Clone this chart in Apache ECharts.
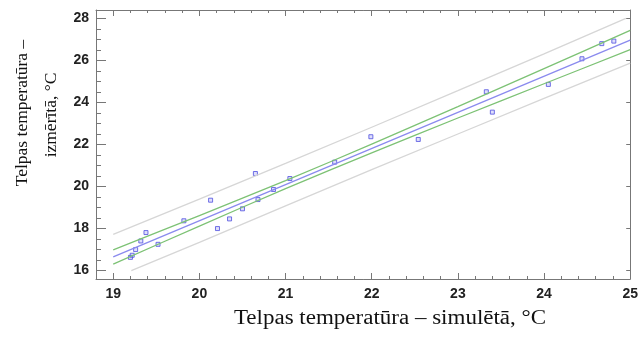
<!DOCTYPE html>
<html>
<head>
<meta charset="utf-8">
<script src="https://cdn.jsdelivr.net/npm/echarts@6/dist/echarts.min.js"></script>
<style>
  html, body { margin: 0; padding: 0; background: #fff; }
  #chart { width: 641px; height: 340px; }
</style>
</head>
<body>
<div id="chart"></div>
<script>
// simulated vs measured room temperature
let simX = [19.20, 19.22, 19.26, 19.32, 19.38, 19.52, 19.82, 20.13, 20.21, 20.35, 20.50, 20.65,
  20.68, 20.86, 21.05, 21.57, 21.99, 22.54, 23.33, 23.40, 24.05, 24.44, 24.67, 24.81];
let measY = [16.63, 16.73, 17.00, 17.41, 17.81, 17.25, 18.37, 19.35, 18.00, 18.46, 18.94, 20.62,
  19.38, 19.86, 20.38, 21.16, 22.37, 22.24, 24.51, 23.54, 24.86, 26.08, 26.80, 26.92];

// fitted line, confidence band (green), prediction band (grey)
let fitX = [19, 25];
let fitY = [16.65, 26.97];
let bandX = [19, 20, 21, 22, 23, 24, 25];
let confUpper = [16.99, 18.62, 20.28, 22.02, 23.80, 25.61, 27.43];
let confLower = [16.31, 18.12, 19.90, 21.60, 23.26, 24.89, 26.51];
let predUpperX = [19, 20, 21, 22, 23, 24, 24.95];
let predUpper = [17.72, 19.40, 21.10, 22.82, 24.56, 26.31, 28.0];
let predLowerX = [19.21, 20, 21, 22, 23, 24, 25];
let predLower = [16.0, 17.34, 19.08, 20.80, 22.50, 24.19, 25.87];

let xTicks = [19, 20, 21, 22, 23, 24, 25];
let yTicks = [16, 18, 20, 22, 24, 26, 28];

let xTitle = 'Telpas temperatūra – simulētā, °C';
let yTitle1 = 'Telpas temperatūra –';
let yTitle2 = 'izmērītā, °C';

let xMinor = [], yMinor = [];
for (let i = 0; i <= 30; i++) xMinor.push(+(19 + i * 0.2).toFixed(1));
for (let i = 0; i <= 24; i++) yMinor.push(16 + i * 0.5);

function pairs(xs, ys) {
  return xs.map((x, i) => [x, ys[i]]);
}

const axisCol = '#777';
const lblStyle = {
  color: '#222', fontSize: 14, fontWeight: 'bold',
  fontFamily: '"Liberation Sans", Arial, sans-serif'
};

function xAx(pos, ticks, len, labels, line) {
  return {
    type: 'value', position: pos, min: 18.8, max: 25,
    splitLine: { show: false },
    axisLine: { show: line, lineStyle: { color: axisCol, width: 1 } },
    axisTick: { show: true, inside: true, length: len, customValues: ticks, lineStyle: { color: axisCol } },
    axisLabel: labels ? Object.assign({ customValues: ticks, margin: 8 }, lblStyle) : { show: false }
  };
}

function yAx(pos, ticks, len, labels, line) {
  return {
    type: 'value', position: pos, min: 15.6, max: 28.4,
    splitLine: { show: false },
    axisLine: { show: line, lineStyle: { color: axisCol, width: 1 } },
    axisTick: { show: true, inside: true, length: len, customValues: ticks, lineStyle: { color: axisCol } },
    axisLabel: labels ? Object.assign({ customValues: ticks, margin: 7 }, lblStyle) : { show: false }
  };
}

let chart = echarts.init(document.getElementById('chart'));

chart.setOption({
  animation: false,
  grid: { left: 96, right: 7.5, top: 10, bottom: 61 },
  xAxis: [
    xAx('bottom', xTicks, 6, true, true),
    xAx('bottom', xMinor, 3, false, false),
    xAx('top', xTicks, 6, false, true),
    xAx('top', xMinor, 3, false, false)
  ],
  yAxis: [
    yAx('left', yTicks, 10, true, true),
    yAx('left', yMinor, 5, false, false),
    yAx('right', yTicks, 4, false, true)
  ],
  series: [
    {
      type: 'line', data: pairs(predUpperX, predUpper), symbol: 'none',
      lineStyle: { color: '#d6d6d6', width: 1.3 }
    },
    {
      type: 'line', data: pairs(predLowerX, predLower), symbol: 'none',
      lineStyle: { color: '#d6d6d6', width: 1.3 }
    },
    {
      type: 'line', data: pairs(bandX, confUpper), symbol: 'none', smooth: 0.3,
      lineStyle: { color: '#7dc275', width: 1.3 }
    },
    {
      type: 'line', data: pairs(bandX, confLower), symbol: 'none', smooth: 0.3,
      lineStyle: { color: '#7dc275', width: 1.3 }
    },
    {
      type: 'line', data: pairs(fitX, fitY), symbol: 'none',
      lineStyle: { color: '#8a8aee', width: 1.3 }
    },
    {
      type: 'scatter', data: pairs(simX, measY), symbol: 'rect', symbolSize: 4,
      itemStyle: { color: 'rgba(140,140,240,0.35)', borderColor: '#4f4fe0', borderWidth: 1 }
    }
  ],
  graphic: [
    {
      type: 'text', x: 390, y: 319, scaleX: 1.15,
      style: { text: xTitle, fontSize: 20, fontFamily: '"Liberation Serif", "Times New Roman", serif',
        fill: '#111', textAlign: 'center', textVerticalAlign: 'middle' }
    },
    {
      type: 'text', x: 22, y: 113, rotation: Math.PI / 2,
      style: { text: yTitle1, fontSize: 17.5, fontFamily: '"Liberation Serif", "Times New Roman", serif',
        fill: '#111', textAlign: 'center', textVerticalAlign: 'middle' }
    },
    {
      type: 'text', x: 51, y: 115, rotation: Math.PI / 2,
      style: { text: yTitle2, fontSize: 17.5, fontFamily: '"Liberation Serif", "Times New Roman", serif',
        fill: '#111', textAlign: 'center', textVerticalAlign: 'middle' }
    }
  ]
});
</script>
</body>
</html>
